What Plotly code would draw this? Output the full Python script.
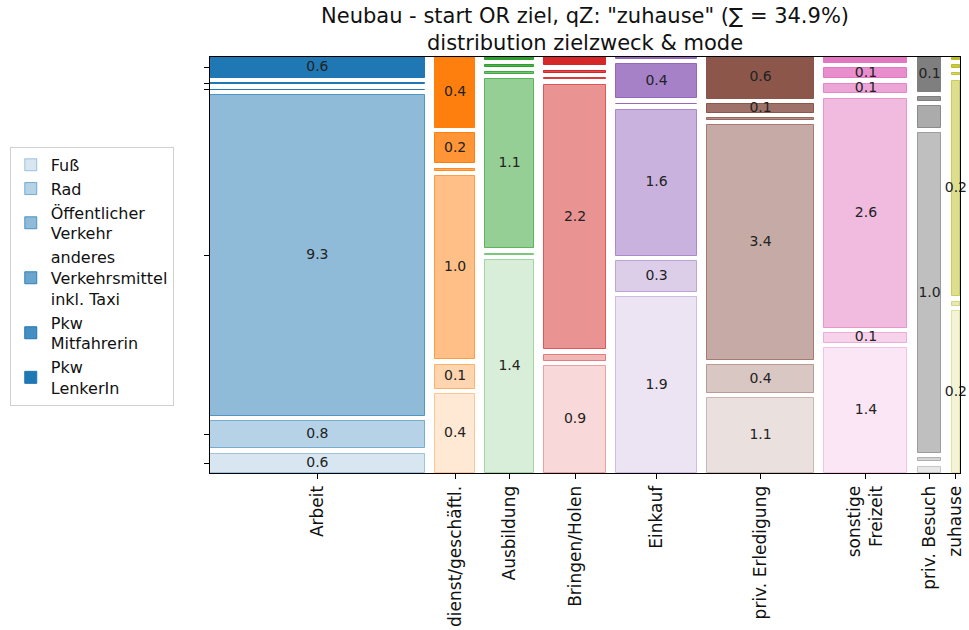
import plotly.graph_objects as go

# Trip purposes (columns) and modes (stacked segments, bottom to top)
purposes = ["Arbeit", "dienst/geschäftl.", "Ausbildung", "Bringen/Holen", "Einkauf",
            "priv. Erledigung", "sonstige<br>Freizeit", "priv. Besuch", "zuhause"]
modes = ["Fuß", "Rad", "Öffentlicher<br>Verkehr",
         "anderes<br>Verkehrsmittel<br>inkl. Taxi", "Pkw<br>Mitfahrerin", "Pkw<br>LenkerIn"]

# Share of all trips in %, one list per mode, ordered like `purposes`
fuss = [0.56, 0.42, 1.38, 0.89, 1.90, 1.08, 1.40, 0.02, 0.18]
rad = [0.79, 0.13, 0.01, 0.05, 0.33, 0.39, 0.11, 0.01, 0.005]
oev = [9.26, 0.98, 1.10, 2.20, 1.58, 3.38, 2.56, 1.00, 0.24]
anderes = [0.02, 0.01, 0.01, 0.01, 0.01, 0.02, 0.11, 0.07, 0.003]
mitfahrer = [0.04, 0.16, 0.01, 0.02, 0.37, 0.13, 0.11, 0.01, 0.003]
lenker = [0.60, 0.38, 0.02, 0.07, 0.02, 0.60, 0.07, 0.11, 0.003]

series = [fuss, rad, oev, anderes, mitfahrer, lenker]

# tab10 hue per purpose, opacity per mode
base_colors = [(31, 119, 180), (255, 127, 14), (44, 160, 44), (214, 39, 40), (148, 103, 189),
               (140, 86, 75), (227, 119, 194), (127, 127, 127), (188, 189, 34)]
alphas = [0.18, 0.33, 0.5, 0.66, 0.83, 1.0]

HGAP = 0.014   # gap between purpose columns (axis fraction)
VGAP = 0.0125  # gap between mode segments (axis fraction)
LABEL_MIN = 0.1

n_p = len(purposes)
n_m = len(modes)
totals = [sum(s[i] for s in series) for i in range(n_p)]
grand_total = sum(totals)

# column geometry
avail_w = 1 - (n_p - 1) * HGAP
widths = [t / grand_total * avail_w for t in totals]
lefts = []
x = 0.0
for w in widths:
    lefts.append(x)
    x += w + HGAP
centers = [l + w / 2 for l, w in zip(lefts, widths)]

# segment geometry inside each column
avail_h = 1 - (n_m - 1) * VGAP
heights = [[0.0] * n_p for _ in range(n_m)]
bottoms = [[0.0] * n_p for _ in range(n_m)]
for i in range(n_p):
    y = 0.0
    for m in range(n_m):
        h = series[m][i] / totals[i] * avail_h
        heights[m][i] = h
        bottoms[m][i] = y
        y += h + VGAP

fig = go.Figure()

for m in range(n_m):
    fills = [f"rgba({r},{g},{b},{alphas[m]})" for (r, g, b) in base_colors]
    edges = [f"rgba({r},{g},{b},{min(1.0, alphas[m] + 0.2)})" for (r, g, b) in base_colors]
    fig.add_trace(go.Bar(
        x=centers, y=heights[m], base=bottoms[m], width=widths,
        name=modes[m],
        marker=dict(color=fills, line=dict(color=edges, width=1)),
        hoverinfo="skip",
    ))

# value labels
lx, ly, lt = [], [], []
for m in range(n_m):
    for i in range(n_p):
        v = series[m][i]
        if v >= LABEL_MIN:
            lx.append(centers[i])
            ly.append(bottoms[m][i] + heights[m][i] / 2)
            lt.append(f"{v:.1f}")
fig.add_trace(go.Scatter(
    x=lx, y=ly, text=lt, mode="text", showlegend=False, hoverinfo="skip",
    textfont=dict(family="DejaVu Sans", size=14, color="#222222"),
    cliponaxis=False,
))

# y ticks at the centres of the first column's segments
ytick_vals = [bottoms[m][0] + heights[m][0] / 2 for m in range(n_m)]

title_text = (f'Neubau - start OR ziel, qZ: "zuhause" (∑ = {grand_total:.1f}%)'
              '<br>distribution zielzweck & mode')

fig.update_layout(
    width=969, height=630,
    margin=dict(l=210, r=9, t=57, b=157),
    paper_bgcolor="white", plot_bgcolor="white",
    barmode="overlay", bargap=0,
    font=dict(family="DejaVu Sans", size=15, color="#111111"),
    xaxis=dict(
        range=[0, 1], tickvals=centers, ticktext=purposes, tickangle=-90,
        ticks="outside", ticklen=5, tickcolor="black", automargin=False,
        showline=True, linecolor="black", linewidth=1, mirror=True,
        showgrid=False, zeroline=False, tickfont=dict(size=17),
    ),
    yaxis=dict(
        range=[0, 1], tickvals=ytick_vals, ticktext=[""] * n_m,
        ticks="outside", ticklen=5, tickcolor="black", automargin=False,
        showline=True, linecolor="black", linewidth=1, mirror=True,
        showgrid=False, zeroline=False,
    ),
    legend=dict(
        x=-0.267, y=0.784, xanchor="left", yanchor="top",
        traceorder="normal", bgcolor="white",
        bordercolor="#d0d0d0", borderwidth=1,
        font=dict(size=16),
    ),
    annotations=[dict(
        text=title_text, x=0.5, xref="paper", xanchor="center",
        y=1, yref="paper", yanchor="bottom", yshift=0,
        showarrow=False, font=dict(size=21, color="#111111"),
    )],
)

fig.write_html("out.html")
